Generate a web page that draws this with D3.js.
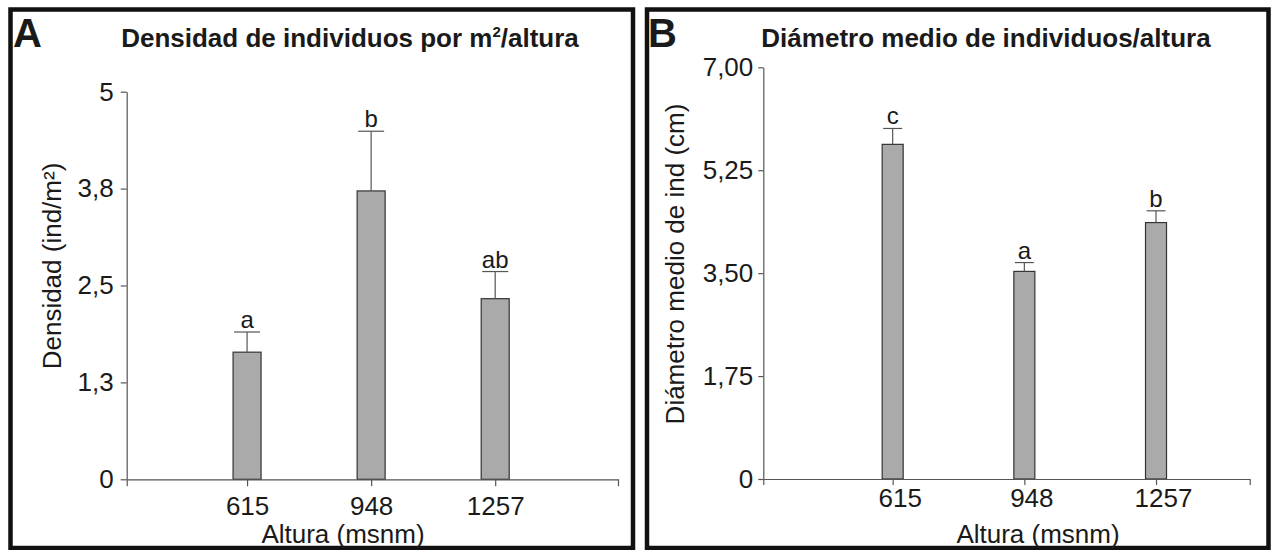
<!DOCTYPE html>
<html>
<head>
<meta charset="utf-8">
<script src="https://cdn.jsdelivr.net/npm/d3@7"></script>
<style>
  body { margin: 0; background: #fff; }
  text { font-family: "Liberation Sans", Arial, sans-serif; fill: #1a1a1a; }
</style>
</head>
<body>
<div id="chart"></div>
<script>
// data
var altitudes = ["615", "948", "1257"]

var densityMean = [1.64, 3.72, 2.33]
var densityErr = [0.26, 0.77, 0.35]
var densityLetters = ["a", "b", "ab"]
var densityTicks = [0, 1.25, 2.5, 3.75, 5]
var densityTickLabels = ["0", "1,3", "2,5", "3,8", "5"]

var diameterMean = [5.69, 3.53, 4.36]
var diameterErr = [0.27, 0.15, 0.20]
var diameterLetters = ["c", "a", "b"]
var diameterTicks = [0, 1.75, 3.5, 5.25, 7]
var diameterTickLabels = ["0", "1,75", "3,50", "5,25", "7,00"]

var svg = d3.select("#chart")
            .append("svg")
            .attr("width", 1278)
            .attr("height", 550)

function Panel(cfg) {
    var g = svg.append("g")

    // frame
    g.append("rect")
     .attr("x", cfg.box[0])
     .attr("y", cfg.box[1])
     .attr("width", cfg.box[2])
     .attr("height", cfg.box[3])
     .attr("fill", "none")
     .attr("stroke", "#111")
     .attr("stroke-width", 4.5)

    g.append("text")
     .attr("x", cfg.letterX)
     .attr("y", 47)
     .attr("font-size", 40)
     .attr("font-weight", "bold")
     .text(cfg.letter)

    var title = g.append("text")
                 .attr("x", cfg.titleX)
                 .attr("y", 47)
                 .attr("text-anchor", "middle")
                 .attr("font-size", 26)
                 .attr("font-weight", "bold")
    cfg.title(title)

    var y = d3.scaleLinear()
              .domain([cfg.ticks[0], cfg.ticks[cfg.ticks.length - 1]])
              .range(cfg.yRange)

    var x = d3.scalePoint()
              .domain(altitudes)
              .range(cfg.xRange)
              .padding(cfg.padding)
              .align(cfg.align)

    var data = altitudes.map(function (a, i) {
        return { key: a, mean: cfg.mean[i], err: cfg.err[i], letter: cfg.letters[i] }
    })

    // bars
    g.selectAll(".bar")
     .data(data)
     .enter().append("rect")
     .attr("class", "bar")
     .attr("x", function (d) { return x(d.key) - cfg.barWidth / 2 })
     .attr("y", function (d) { return y(d.mean) })
     .attr("width", cfg.barWidth)
     .attr("height", function (d) { return y(0) - y(d.mean) })
     .attr("fill", "#aaaaaa")
     .attr("stroke", "#333")
     .attr("stroke-width", 1.2)

    // error bars
    var eb = g.selectAll(".err")
              .data(data)
              .enter().append("g")
              .attr("class", "err")
              .attr("stroke", "#555")
              .attr("stroke-width", 1.2)
    eb.append("line")
      .attr("x1", function (d) { return x(d.key) })
      .attr("x2", function (d) { return x(d.key) })
      .attr("y1", function (d) { return y(d.mean) })
      .attr("y2", function (d) { return y(d.mean + d.err) })
    eb.append("line")
      .attr("x1", function (d) { return x(d.key) - cfg.barWidth / 2 + 1 })
      .attr("x2", function (d) { return x(d.key) + cfg.barWidth / 2 - 1 })
      .attr("y1", function (d) { return y(d.mean + d.err) })
      .attr("y2", function (d) { return y(d.mean + d.err) })

    g.selectAll(".sig")
     .data(data)
     .enter().append("text")
     .attr("class", "sig")
     .attr("x", function (d) { return x(d.key) })
     .attr("y", function (d) { return y(d.mean + d.err) - 4 })
     .attr("text-anchor", "middle")
     .attr("font-size", 24)
     .text(function (d) { return d.letter })

    // axes
    var yAxis = g.append("g")
                 .attr("transform", "translate(" + cfg.xRange[0] + ",0)")
                 .call(d3.axisLeft(y)
                         .tickValues(cfg.ticks)
                         .tickFormat(function (d, i) { return cfg.tickLabels[i] })
                         .tickSize(cfg.yTick)
                         .tickSizeOuter(0)
                         .tickPadding(cfg.yPad))
    var xAxis = g.append("g")
                 .attr("transform", "translate(0," + cfg.yRange[0] + ")")
                 .call(d3.axisBottom(x)
                         .tickSize(cfg.xTick)
                         .tickSizeOuter(cfg.xTick)
                         .tickPadding(cfg.xPad))
    xAxis.selectAll("text").attr("dx", cfg.xLabelDx)

    ;[yAxis, xAxis].forEach(function (a) {
        a.attr("font-family", null).attr("font-size", 26)
        a.selectAll("path, line").attr("stroke", "#555").attr("stroke-width", 1.2)
        a.selectAll("text").attr("fill", "#1a1a1a")
    })

    g.append("text")
     .attr("transform", "translate(" + cfg.yTitlePos[0] + "," + cfg.yTitlePos[1] + ") rotate(-90)")
     .attr("text-anchor", "middle")
     .attr("font-size", 26)
     .text(cfg.yTitle)

    g.append("text")
     .attr("x", cfg.xTitlePos[0])
     .attr("y", cfg.xTitlePos[1])
     .attr("text-anchor", "middle")
     .attr("font-size", 26)
     .text("Altura (msnm)")
}

Panel({
    box: [10.5, 9.5, 622.5, 538.5],
    letter: "A", letterX: 13,
    titleX: 350,
    title: function (t) {
        t.append("tspan").text("Densidad de individuos por m")
        t.append("tspan").attr("font-size", 15).attr("dy", -10).text("2")
        t.append("tspan").attr("dy", 10).text("/altura")
    },
    mean: densityMean, err: densityErr, letters: densityLetters,
    ticks: densityTicks, tickLabels: densityTickLabels,
    yRange: [479.3, 91.7], xRange: [126.7, 618],
    padding: 0.98, align: 0.495, barWidth: 28,
    yTick: 6, yPad: 7, xTick: 7, xPad: 10.5, xLabelDx: 0,
    yTitle: "Densidad (ind/m²)", yTitlePos: [61, 266],
    xTitlePos: [343, 542.5]
})

Panel({
    box: [647, 9.5, 621.5, 538.5],
    letter: "B", letterX: 648,
    titleX: 986,
    title: function (t) { t.text("Diámetro medio de individuos/altura") },
    mean: diameterMean, err: diameterErr, letters: diameterLetters,
    ticks: diameterTicks, tickLabels: diameterTickLabels,
    yRange: [479, 67.3], xRange: [763.3, 1249.7],
    padding: 0.847, align: 0.58, barWidth: 21,
    yTick: 5, yPad: 5, xTick: 6, xPad: 3.5, xLabelDx: 7,
    yTitle: "Diámetro medio de ind (cm)", yTitlePos: [684, 264],
    xTitlePos: [1038, 543]
})
</script>
</body>
</html>
